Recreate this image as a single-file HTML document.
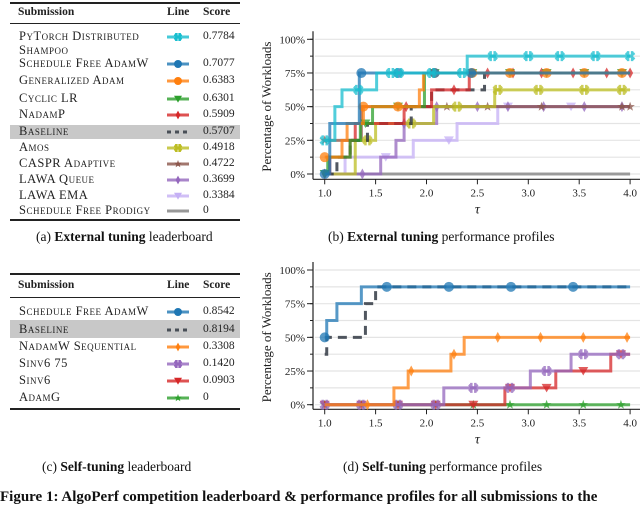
<!DOCTYPE html>
<html><head><meta charset="utf-8">
<style>
body{margin:0;width:640px;height:496px;overflow:hidden;background:#fff;font-family:"Liberation Serif",serif;position:relative}
.tbl{position:absolute;left:10px;width:230px;font-size:11px;color:#222}
.rule{position:absolute;left:0;width:230px;background:#222}
.row{position:absolute;left:0;width:230px;height:16px}
.nm{position:absolute;left:9px;font-variant:small-caps;font-size:12.5px;letter-spacing:0.5px;white-space:nowrap;line-height:14px;top:-1px}
.sc{position:absolute;left:193px;font-size:11.5px}
.hd{position:absolute;font-weight:bold;font-size:11.5px}
.band{position:absolute;left:0;width:230px;background:#c8c8c8}
.cap{position:absolute;font-size:13.5px;white-space:nowrap;color:#111}
svg{position:absolute;left:0;top:0}
</style></head><body>

<div class="tbl" style="top:0">
 <div class="rule" style="top:2px;height:1.5px"></div>
 <div class="hd" style="left:8px;top:6px">Submission</div>
 <div class="hd" style="left:157px;top:6px">Line</div>
 <div class="hd" style="left:193px;top:6px">Score</div>
 <div class="rule" style="top:23px;height:1px"></div>
 <div class="band" style="top:125px;height:14px"></div>
 <div class="rule" style="top:219px;height:1.5px"></div>
</div>
<div class="tbl" id="t1" style="top:0"></div>

<div class="tbl" style="top:0">
 <div class="rule" style="top:273px;height:1.5px"></div>
 <div class="hd" style="left:8px;top:279px">Submission</div>
 <div class="hd" style="left:157px;top:279px">Line</div>
 <div class="hd" style="left:193px;top:279px">Score</div>
 <div class="rule" style="top:297px;height:1px"></div>
 <div class="band" style="top:320px;height:18px"></div>
 <div class="rule" style="top:408px;height:1.5px"></div>
</div>
<div class="tbl" id="t2" style="top:0"></div>

<div class="cap" style="left:36px;top:229px">(a) <b>External tuning</b> leaderboard</div>
<div class="cap" style="left:328px;top:229px">(b) <b>External tuning</b> performance profiles</div>
<div class="cap" style="left:42px;top:459px">(c) <b>Self-tuning</b> leaderboard</div>
<div class="cap" style="left:343px;top:459px">(d) <b>Self-tuning</b> performance profiles</div>
<div class="cap" style="left:0;top:489px;font-size:15px;font-weight:bold">Figure 1: AlgoPerf competition leaderboard &amp; performance profiles for all submissions to the</div>

<svg id="chart" width="640" height="496"></svg>

<script>
// ---------- data ----------
const topNames=["PyTorch Distributed Shampoo","Schedule Free AdamW","Generalized Adam","Cyclic LR","NadamP","Baseline","Amos","CASPR Adaptive","LAWA Queue","LAWA EMA","Schedule Free Prodigy"];
const topScores=["0.7784","0.7077","0.6383","0.6301","0.5909","0.5707","0.4918","0.4722","0.3699","0.3384","0"];
const topColors=["#17becf","#1f77b4","#ff7f0e","#2ca02c","#d62728","#333a44","#bcbd22","#8c564b","#9467bd","#c5b0f5","#7f7f7f"];
const topMarkers=["x","o","o","v","d","","x","*","d","v",""];
const topStepX=[
 [1.0,1.1,1.17,1.51,2.4],
 [1.0,1.05,1.34],
 [1.0,1.17,1.22,1.38,1.93,1.97],
 [1.0,1.03,1.25,1.35,1.47,1.98],
 [1.0,1.05,1.25,1.3,1.78,2.05,2.42],
 [1.0,1.12,1.25,1.42,1.85,2.05,2.57],
 [1.0,1.3,1.5,2.07,2.67],
 [1.0,1.36],
 [1.0,1.55,1.7,1.78,2.1],
 [1.0,1.2,1.87,2.3,2.7],
 [1.0]
];
const topStepY=[
 [25,50,62.5,75,87.5],
 [0,37.5,75],
 [12.5,25,37.5,50,62.5,75],
 [0,12.5,25,37.5,50,75],
 [0,12.5,25,37.5,50,62.5,75],
 [0,12.5,25,37.5,50,62.5,75],
 [0,25,37.5,50,62.5],
 [25,50],
 [0,12.5,25,37.5,50],
 [0,12.5,25,37.5,50],
 [0]
];
const topMarkX=[
 [1.0,1.33,1.65,1.73,2.05,2.35,2.65,3.0,3.31,3.66,4.0],
 [1.0,1.36,1.72,2.08,2.44],
 [1.0,1.38,1.72,2.08,2.45,2.82,3.18,3.55,3.92],
 [1.0,1.4,1.72,2.08,2.45,2.82,3.18,3.55,3.92],
 [1.0,1.8,2.27,2.6,2.85,3.13,3.44,3.77,4.0],
 [],
 [1.42,1.85,2.3,2.7,3.1,3.55,3.92],
 [1.0,2.2,2.6,3.13,3.92,4.0],
 [1.37,1.78,2.1,2.5,2.8,3.15,3.55,3.92],
 [1.0,1.6,2.22,2.8,3.42],
 []
];
const botNames=["Schedule Free AdamW","Baseline","NadamW Sequential","Sinv6 75","Sinv6","AdamG"];
const botScores=["0.8542","0.8194","0.3308","0.1420","0.0903","0"];
const botColors=["#1f77b4","#333a44","#ff7f0e","#9467bd","#d62728","#2ca02c"];
const botMarkers=["o","","d","x","v","*"];
const botStepX=[
 [1.0,1.02,1.12,1.36],
 [1.0,1.02,1.4,1.5],
 [1.0,1.68,1.82,2.24,2.37],
 [1.0,2.17,3.02,3.42],
 [1.0,2.77,3.27,3.81],
 [1.0]
];
const botStepY=[
 [50,62.5,75,87.5],
 [37.5,50,75,87.5],
 [0,12.5,25,37.5,50],
 [0,12.5,25,37.5],
 [0,12.5,25,37.5],
 [0]
];
const botMarkX=[
 [1.0,1.61,2.22,2.83,3.44],
 [],
 [1.42,1.85,2.27,2.7,3.12,3.54,3.97],
 [1.0,1.36,1.72,2.09,2.46,2.82,3.18,3.54,3.91],
 [1.0,1.36,1.72,2.09,2.46,2.82,3.18,3.54,3.91],
 [1.0,1.36,1.72,2.09,2.46,2.82,3.18,3.54,3.91]
];
const yTicks=[0,25,50,75,100];
const yTickLabels=["0%","25%","50%","75%","100%"];
const xTicks=[1.0,1.5,2.0,2.5,3.0,3.5,4.0];
const xTickLabels=["1.0","1.5","2.0","2.5","3.0","3.5","4.0"];

// ---------- helpers ----------
const NS="http://www.w3.org/2000/svg";
const svg=document.getElementById('chart');
function mk(tag,attrs,parent){const e=document.createElementNS(NS,tag);for(const k in attrs)e.setAttribute(k,attrs[k]);(parent||svg).appendChild(e);return e;}
function stepAt(xs,ys,t){let v=ys[0];for(let i=0;i<xs.length;i++){if(t>=xs[i])v=ys[i];}return v;}
function marker(g,type,x,y,c,s){
 s=s||5;let e;
 if(type==="o"){e=mk('circle',{cx:x,cy:y,r:s},g);}
 else if(type==="v"){e=mk('polygon',{points:`${x-s},${y-s*0.8} ${x+s},${y-s*0.8} ${x},${y+s*0.9}`},g);}
 else if(type==="d"){e=mk('polygon',{points:`${x},${y-s*1.1} ${x+s*0.6},${y} ${x},${y+s*1.1} ${x-s*0.6},${y}`},g);}
 else if(type==="*"){let p=[];for(let i=0;i<10;i++){const r=i%2?s*0.4:s;const a=-Math.PI/2+i*Math.PI/5;p.push((x+r*Math.cos(a)).toFixed(1)+","+(y+r*Math.sin(a)).toFixed(1));}e=mk('polygon',{points:p.join(' ')},g);}
 else if(type==="x"){e=mk('path',{d:`M${x-s*0.9},${y-s*0.6}L${x+s*0.9},${y+s*0.6}M${x-s*0.9},${y+s*0.6}L${x+s*0.9},${y-s*0.6}M${x-s*0.4},${y-s}L${x-s*0.4},${y+s}M${x+s*0.4},${y-s}L${x+s*0.4},${y+s}`,stroke:c,'stroke-width':2.5,fill:'none'},g);return e;}
 if(e){e.setAttribute('fill',c);}
 return e;
}

function table(id,names,scores,colors,mks,rowY){
 const t=document.getElementById(id);
 names.forEach((n,i)=>{
  const r=document.createElement('div');r.className='row';r.style.top=(rowY[i]-6)+'px';
  
  
  const nm=document.createElement('div');nm.className='nm';
  if(n==="PyTorch Distributed Shampoo"){nm.innerHTML="PyTorch Distributed<br>Shampoo";}else nm.textContent=n;
  
  
  const sc=document.createElement('div');sc.className='sc';sc.textContent=scores[i];
  
  
  r.appendChild(nm);r.appendChild(sc);t.appendChild(r);
  const y=rowY[i]+1;const g=mk('g',{});
  
  
  if(mks[i]===""&&n==="Baseline"){mk('line',{x1:167,x2:189,y1:y,y2:y,stroke:colors[i],'stroke-width':3,'stroke-dasharray':'4,4',opacity:0.85},g);}
  else{mk('line',{x1:167,x2:189,y1:y,y2:y,stroke:colors[i],'stroke-width':3,opacity:0.8},g);if(mks[i])marker(g,mks[i],178,y,colors[i],4);}
 });
}
table('t1',topNames,topScores,topColors,topMarkers,[36,63,80,98,114,131,147,163,179,195,210]);
table('t2',botNames,botScores,botColors,botMarkers,[311,329,346,363,380,397]);

function chart(name,y0,y100,bottom,names,colors,mks,sx,sy,mx){
 const X=t=>324.7+(t-1)*101.8;
 const Y=p=>y0-(p/100)*(y0-y100);
 const g=mk('g',{});
 
 
 for(let p=0;p<=100;p+=12.5){mk('line',{x1:315,x2:640,y1:Y(p),y2:Y(p),stroke:'#e4e4e4','stroke-width':1.2},g);
  mk('line',{x1:310,x2:313,y1:Y(p),y2:Y(p),stroke:'#222','stroke-width':1},g);}
 yTicks.forEach((p,i)=>{mk('line',{x1:307,x2:313,y1:Y(p),y2:Y(p),stroke:'#222','stroke-width':1},g);
  const tx=mk('text',{x:305,y:Y(p)+4,'text-anchor':'end','font-size':11,fill:'#222'},g);tx.textContent=yTickLabels[i];});
 xTicks.forEach((t,i)=>{mk('line',{x1:X(t),x2:X(t),y1:bottom,y2:bottom+5,stroke:'#222','stroke-width':1},g);
  const tx=mk('text',{x:X(t),y:bottom+17,'text-anchor':'middle','font-size':11,fill:'#222'},g);tx.textContent=xTickLabels[i];});
 mk('line',{x1:313,x2:313,y1:y100-8,y2:bottom,stroke:'#222','stroke-width':1.2},g);
 mk('line',{x1:313,x2:640,y1:bottom,y2:bottom,stroke:'#222','stroke-width':1.2},g);
 const yl=mk('text',{x:0,y:0,transform:`translate(271,${(y0+y100)/2}) rotate(-90)`,'text-anchor':'middle','font-size':13,fill:'#222'},g);yl.textContent="Percentage of Workloads";
 
 const xl=mk('text',{x:X(2.5),y:bottom+34,'text-anchor':'middle','font-size':14,'font-style':'italic',fill:'#222'},g);xl.textContent="τ";
 
 for(let s=names.length-1;s>=0;s--){
  const xs=sx[s],ys=sy[s];let d=`M${X(xs[0])},${Y(ys[0])}`;
  for(let i=1;i<xs.length;i++){d+=`H${X(xs[i])}V${Y(ys[i])}`;}
  d+=`H${X(4.0)}`;
  const sg=mk('g',{},g);
  
  
  const isBase=names[s]==="Baseline";
  mk('path',{d:d,fill:'none',stroke:colors[s],'stroke-width':3,opacity:isBase?0.85:0.75,'stroke-dasharray':isBase?'9,6':'none'},sg);
  const mg=mk('g',{opacity:0.75},sg);
  mx[s].forEach(t=>marker(mg,mks[s],X(t),Y(stepAt(xs,ys,t)),colors[s],5));
 }
}
chart('chart-external-tuning',174,39.3,179.3,topNames,topColors,topMarkers,topStepX,topStepY,topMarkX);
chart('chart-self-tuning',404.7,270,409.3,botNames,botColors,botMarkers,botStepX,botStepY,botMarkX);
</script>
</body></html>
